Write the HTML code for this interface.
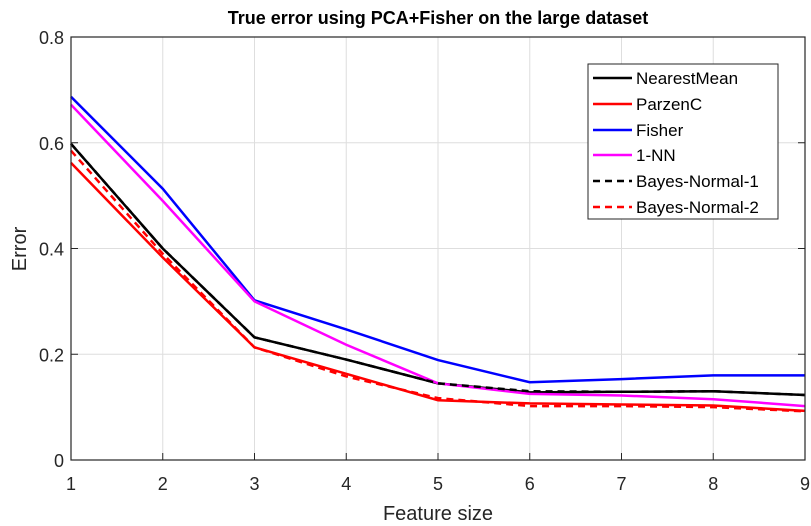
<!DOCTYPE html>
<html><head><meta charset="utf-8"><style>
body{margin:0;background:#fff;}
svg{display:block;font-family:"Liberation Sans",Arial,sans-serif;}
</style></head><body>
<svg id="chart" width="811" height="526">
<rect x="0" y="0" width="811" height="526" fill="#fff"/>
<g id="grid"></g>
<g id="series"></g>
<g id="axes"></g>
<text x="438" y="24" text-anchor="middle" font-size="18" font-weight="bold" fill="#000">True error using PCA+Fisher on the large dataset</text>
<text x="438" y="520" text-anchor="middle" font-size="20" fill="#262626">Feature size</text>
<text transform="translate(26,249) rotate(-90)" text-anchor="middle" font-size="20" fill="#262626">Error</text>
<g id="legend"></g>
</svg>
<script>
const xCats=[1,2,3,4,5,6,7,8,9];
const xTicks=[1,2,3,4,5,6,7,8,9];
const yTicks=[0,0.2,0.4,0.6,0.8];
const yTickLabels=["0","0.2","0.4","0.6","0.8"];
const seriesNames=["NearestMean","ParzenC","Fisher","1-NN","Bayes-Normal-1","Bayes-Normal-2"];
const nearestMean=[0.598,0.40,0.232,0.19,0.145,0.128,0.129,0.130,0.123];
const parzenC=[0.562,0.383,0.213,0.163,0.113,0.107,0.105,0.103,0.093];
const fisher=[0.687,0.513,0.302,0.247,0.189,0.147,0.153,0.160,0.160];
const oneNN=[0.672,0.49,0.300,0.218,0.145,0.125,0.122,0.115,0.102];
const bayes1=[0.598,0.40,0.232,0.19,0.145,0.13,0.129,0.130,0.123];
const bayes2=[0.585,0.39,0.213,0.158,0.117,0.102,0.102,0.100,0.092];
const NS="http://www.w3.org/2000/svg";
const L=71,R=805,T=37,B=460;
const xs=v=>L+(v-1)/8*(R-L);
const ys=v=>B-v/0.8*(B-T);
function mk(tag,attrs,parent){const e=document.createElementNS(NS,tag);for(const k in attrs)e.setAttribute(k,attrs[k]);parent.appendChild(e);return e;}
const grid=document.getElementById('grid'),axes=document.getElementById('axes'),ser=document.getElementById('series'),leg=document.getElementById('legend');
xTicks.forEach(t=>{
 const g=mk('line',{x1:xs(t),x2:xs(t),y1:T,y2:B,stroke:'#dedede','stroke-width':1},grid);
 
 
 const tk=mk('line',{x1:xs(t),x2:xs(t),y1:B,y2:B-7,stroke:'#262626','stroke-width':1},axes);
 
 
 const tx=mk('text',{x:xs(t),y:B+30,'text-anchor':'middle','font-size':18,fill:'#262626'},axes);
 tx.textContent=t;
 
 
});
yTicks.forEach((t,i)=>{
 const g=mk('line',{x1:L,x2:R,y1:ys(t),y2:ys(t),stroke:'#dedede','stroke-width':1},grid);
 
 
 const tk=mk('line',{x1:L,x2:L+7,y1:ys(t),y2:ys(t),stroke:'#262626','stroke-width':1},axes);
 
 
 const tk2=mk('line',{x1:R,x2:R-7,y1:ys(t),y2:ys(t),stroke:'#262626','stroke-width':1},axes);
 
 
 const tx=mk('text',{x:L-7,y:ys(t)+7,'text-anchor':'end','font-size':18,fill:'#262626'},axes);
 tx.textContent=yTickLabels[i];
 
 
});
const box=mk('rect',{x:L,y:T,width:R-L,height:B-T,fill:'none',stroke:'#262626','stroke-width':1.2},axes);


const defs=[[nearestMean,'#000',''],[parzenC,'#ff0000',''],[fisher,'#0000ff',''],[oneNN,'#ff00ff',''],[bayes1,'#000','7,5'],[bayes2,'#ff0000','7,5']];
defs.forEach((d,i)=>{
 const pts=d[0].map((v,j)=>xs(xCats[j])+','+ys(v)).join(' ');
 const p=mk('polyline',{points:pts,fill:'none',stroke:d[1],'stroke-width':2.5,'stroke-dasharray':d[2]||'none'},ser);
 
 
});
const lb=mk('rect',{x:588,y:64,width:190,height:155,fill:'#fff',stroke:'#262626','stroke-width':1},leg);


const ly=[78,104,130,155,181,207];
defs.forEach((d,i)=>{
 const l=mk('line',{x1:593,x2:632,y1:ly[i],y2:ly[i],stroke:d[1],'stroke-width':2.5,'stroke-dasharray':d[2]||'none'},leg);
 
 
 const t=mk('text',{x:636,y:ly[i]+6,'font-size':17,fill:'#000'},leg);
 t.textContent=seriesNames[i];
 
 
});
</script>
</body></html>
